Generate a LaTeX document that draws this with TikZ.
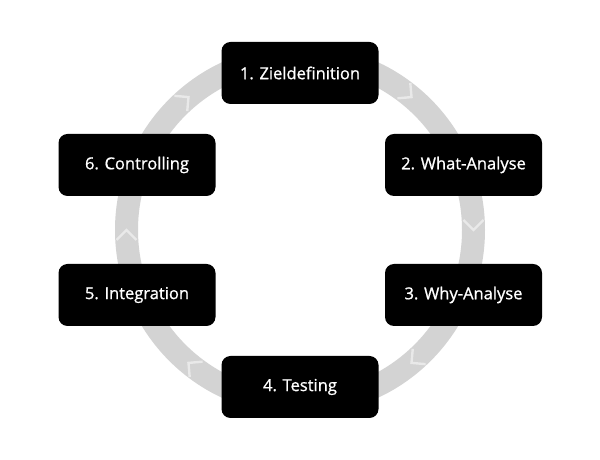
\documentclass[tikz,border=0pt]{standalone}
\usepackage{fontspec}
\setmainfont{Open Sans}
\newfontfamily\phasefont{Open Sans}[FakeBold=0.9]
\usepackage{xcolor}
\usetikzlibrary{positioning,calc}
\definecolor{ringgray}{RGB}{211,211,211}
\tikzset{
  phase/.style={
    fill=black,
    rounded corners=9pt,
    minimum width=157pt,
    minimum height=62pt,
    inner sep=0pt,
    text=white,
    font=\phasefont\fontsize{16.5}{20}\selectfont
  },
  ring/.style={
    draw=ringgray,
    line width=23pt
  },
  chevron/.pic={
    \draw[white, opacity=0.5, line width=2.4pt] (-10,10)--(0,0)--(-10,-10);
  }
}

\begin{document}
\begin{tikzpicture}[x=1pt,y=1pt]
        \useasboundingbox (0,0) rectangle (600,460);
        \fill[white] (0,0) rectangle (600,460);
        % the cycle
        \coordinate (mid) at (300,230);
        \draw[ring] (mid) circle (173.5);
        \foreach \a in {0,50,130,180,230,310}
          \pic[rotate=\a-90] at ($(mid)+(\a:173.5)$) {chevron};
        % the six phases
        \node[phase] (ziel) at (300,387) {1. Zieldefinition};
        \node[phase] (what) at (463.5,295) {2. What-Analyse};
        \node[phase] (why) at (463.5,165) {3. Why-Analyse};
        \node[phase] (test) at (300,73) {4. Testing};
        \node[phase] (integ) at (137,165) {5. Integration};
        \node[phase] (contr) at (137,295) {6. Controlling};
    \end{tikzpicture}
\end{document}
